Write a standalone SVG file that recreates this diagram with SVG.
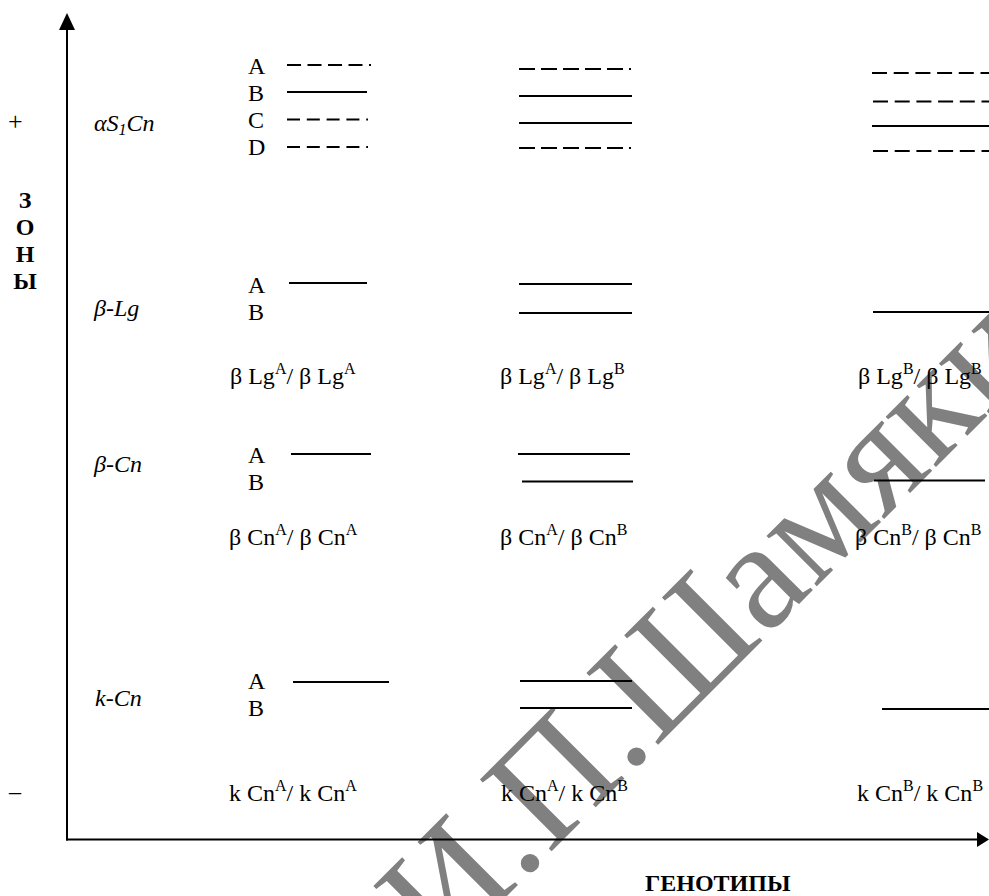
<svg xmlns="http://www.w3.org/2000/svg" width="989" height="896" viewBox="0 0 989 896">
<style>
text { font-family: "Liberation Serif", "Times New Roman", serif; font-size: 24px; fill: #000; }
.it { font-style: italic; }
.b { font-weight: bold; }
.sup { font-size: 16px; }
.sub { font-size: 16px; }
.lv { stroke: #000; stroke-width: 2; fill: none; }
.d1 { stroke-dasharray: 14 6.5; }
.d2 { stroke-dasharray: 13 6.8; }
.d3 { stroke-dasharray: 16 6; }
.d4 { stroke-dasharray: 15 6.7; }
.ax { stroke: #000; stroke-width: 2; fill: none; }
.wm { font-size: 155px; fill: #808080; }
</style>
<rect width="989" height="896" fill="#fff"/>

<g id="watermark">
<text class="wm" transform="translate(442,961) rotate(-45)">И.П.Шамякин</text>
</g>

<g id="connectors">
<line class="ax" x1="67" y1="28" x2="67" y2="840.5"/>
<polygon points="67,13 59,30 75,30" fill="#000"/>
<line class="ax" x1="66" y1="839.5" x2="978" y2="839.5"/>
<polygon points="989,839.5 977,832 977,847" fill="#000"/>
</g>

<g id="axis-labels">
<text x="8" y="130" style="font-size:26px">+</text>
<text x="9" y="799">–</text>
<text class="b" x="25" y="208" text-anchor="middle">З</text>
<text class="b" x="25" y="235" text-anchor="middle">О</text>
<text class="b" x="25" y="262" text-anchor="middle">Н</text>
<text class="b" x="25" y="289" text-anchor="middle">Ы</text>
<text class="b" x="645" y="891">ГЕНОТИПЫ</text>
</g>

<g id="zone-aS1Cn">
<text class="it" x="94" y="131">αS<tspan class="sub" dy="4">1</tspan><tspan dy="-4">Cn</tspan></text>
<text x="248" y="74">A</text>
<text x="248" y="101">B</text>
<text x="248" y="128">C</text>
<text x="248" y="155">D</text>
<line class="lv d1" x1="287" y1="65" x2="371" y2="65"/>
<line class="lv" x1="287" y1="92" x2="367" y2="92"/>
<line class="lv d2" x1="287" y1="119.5" x2="368" y2="119.5"/>
<line class="lv d2" x1="287" y1="147" x2="368" y2="147"/>
<line class="lv d3" x1="519" y1="69" x2="631" y2="69"/>
<line class="lv" x1="519" y1="96" x2="632" y2="96"/>
<line class="lv" x1="519" y1="123" x2="632" y2="123"/>
<line class="lv d3" x1="519" y1="148" x2="631" y2="148"/>
<line class="lv d4" x1="872" y1="73" x2="989" y2="73"/>
<line class="lv d4" x1="873" y1="101.5" x2="989" y2="101.5"/>
<line class="lv" x1="872" y1="126" x2="989" y2="126"/>
<line class="lv d4" x1="873" y1="151" x2="989" y2="151"/>
</g>

<g id="zone-bLg">
<text class="it" x="94" y="316">β-Lg</text>
<text x="248" y="293">A</text>
<text x="248" y="320">B</text>
<line class="lv" x1="289" y1="283" x2="367" y2="283"/>
<line class="lv" x1="519" y1="284" x2="632" y2="284"/>
<line class="lv" x1="519" y1="313" x2="632" y2="313"/>
<line class="lv" x1="873" y1="312" x2="989" y2="312"/>
<text x="230" y="384">β Lg<tspan class="sup" dy="-10">A</tspan><tspan dy="10">/ β Lg</tspan><tspan class="sup" dy="-10">A</tspan></text>
<text x="500" y="384">β Lg<tspan class="sup" dy="-10">A</tspan><tspan dy="10">/ β Lg</tspan><tspan class="sup" dy="-10">B</tspan></text>
<text x="858" y="384">β Lg<tspan class="sup" dy="-10">B</tspan><tspan dy="10">/ β Lg</tspan><tspan class="sup" dy="-10">B</tspan></text>
</g>

<g id="zone-bCn">
<text class="it" x="94" y="472">β-Cn</text>
<text x="248" y="463">A</text>
<text x="248" y="490">B</text>
<line class="lv" x1="291" y1="454" x2="371" y2="454"/>
<line class="lv" x1="518" y1="454" x2="630" y2="454"/>
<line class="lv" x1="522" y1="481.5" x2="633" y2="481.5"/>
<line class="lv" x1="874" y1="480.5" x2="985" y2="480.5"/>
<text x="229" y="545">β Cn<tspan class="sup" dy="-10">A</tspan><tspan dy="10">/ β Cn</tspan><tspan class="sup" dy="-10">A</tspan></text>
<text x="500" y="545">β Cn<tspan class="sup" dy="-10">A</tspan><tspan dy="10">/ β Cn</tspan><tspan class="sup" dy="-10">B</tspan></text>
<text x="855" y="545">β Cn<tspan class="sup" dy="-10">B</tspan><tspan dy="10">/ β Cn</tspan><tspan class="sup" dy="-10">B</tspan></text>
</g>

<g id="zone-kCn">
<text class="it" x="95" y="706">k-Cn</text>
<text x="248" y="689">A</text>
<text x="248" y="716">B</text>
<line class="lv" x1="293" y1="682" x2="389" y2="682"/>
<line class="lv" x1="520" y1="681" x2="632" y2="681"/>
<line class="lv" x1="520" y1="708" x2="632" y2="708"/>
<line class="lv" x1="882" y1="709" x2="989" y2="709"/>
<text x="229" y="801">k Cn<tspan class="sup" dy="-10">A</tspan><tspan dy="10">/ k Cn</tspan><tspan class="sup" dy="-10">A</tspan></text>
<text x="501" y="801">k Cn<tspan class="sup" dy="-10">A</tspan><tspan dy="10">/ k Cn</tspan><tspan class="sup" dy="-10">B</tspan></text>
<text x="857" y="801">k Cn<tspan class="sup" dy="-10">B</tspan><tspan dy="10">/ k Cn</tspan><tspan class="sup" dy="-10">B</tspan></text>
</g>
</svg>
